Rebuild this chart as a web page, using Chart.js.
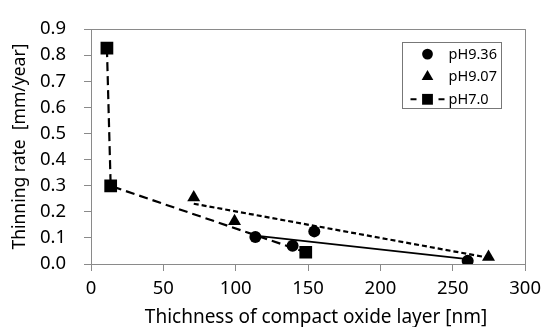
<!DOCTYPE html>
<html>
<head>
<meta charset="utf-8">
<script src="https://cdn.jsdelivr.net/npm/chart.js@4/dist/chart.umd.min.js"></script>
<style>
html,body{margin:0;padding:0;background:#fff;}
#wrap{width:548px;height:327px;position:relative;}
</style>
</head>
<body>
<div id="wrap"><canvas id="c" width="548" height="327" style="width:548px;height:327px;"></canvas></div>
<script>
// ---- data ----
const seriesLabels = ['pH9.36', 'pH9.07', 'pH7.0'];
const xTitle = 'Thichness of compact oxide layer [nm]';
const yTitle = 'Thinning rate  [mm/year]';

const ph936X = [113.6, 139.3, 154.3, 260.3];
const ph936Y = [0.103, 0.070, 0.125, 0.012];

const ph907X = [71.0, 99.2, 274.7];
const ph907Y = [0.255, 0.164, 0.027];

const ph70X = [11.0, 13.6, 148.4];
const ph70Y = [0.827, 0.299, 0.045];

// trend lines (end points)
const fit936X = [113.6, 260.3];
const fit936Y = [0.109, 0.019];
const fit907X = [71.0, 274.7];
const fit907Y = [0.231, 0.024];

const xTicks = [0, 50, 100, 150, 200, 250, 300];
const yTicks = [0.0, 0.1, 0.2, 0.3, 0.4, 0.5, 0.6, 0.7, 0.8, 0.9];

const pts = (xs, ys) => xs.map((x, i) => ({x: x, y: ys[i]}));

const FONT = '"Noto Sans", "Liberation Sans", Arial, sans-serif';

function drawMarker(ctx, style, r, x, y) {
  ctx.beginPath();
  if (style === 'circle') {
    ctx.arc(x, y, r, 0, Math.PI * 2);
  } else if (style === 'triangle') {
    const a = -Math.PI / 2;
    ctx.moveTo(x + Math.cos(a) * r, y + Math.sin(a) * r);
    ctx.lineTo(x + Math.cos(a + 2 * Math.PI / 3) * r, y + Math.sin(a + 2 * Math.PI / 3) * r);
    ctx.lineTo(x + Math.cos(a + 4 * Math.PI / 3) * r, y + Math.sin(a + 4 * Math.PI / 3) * r);
    ctx.closePath();
  } else {
    const s = Math.SQRT1_2 * r;
    ctx.rect(x - s, y - s, 2 * s, 2 * s);
  }
  ctx.fill();
}

const framePlugin = {
  id: 'frame',
  afterDatasetsDraw(chart) {
    const a = chart.chartArea, ctx = chart.ctx;
    ctx.save();
    ctx.strokeStyle = '#8a8a8a';
    ctx.lineWidth = 1;
    ctx.beginPath();
    ctx.moveTo(a.left, Math.round(a.top) + 0.5);
    ctx.lineTo(a.right, Math.round(a.top) + 0.5);
    ctx.moveTo(Math.round(a.right) + 0.5, a.top);
    ctx.lineTo(Math.round(a.right) + 0.5, a.bottom);
    ctx.stroke();
    // x-axis title (slightly right of centre, as in the reference)
    ctx.fillStyle = '#000';
    ctx.font = '19px ' + FONT;
    ctx.textAlign = 'center';
    ctx.textBaseline = 'middle';
    ctx.fillText(xTitle, (a.left + a.right) / 2 + 8, a.bottom + 54);
    ctx.restore();
  }
};

const legendPlugin = {
  id: 'boxLegend',
  afterDraw(chart) {
    const ctx = chart.ctx, a = chart.chartArea;
    const bx = Math.round(a.right - 123.5) + 0.5, by = Math.round(a.top + 13) + 0.5;
    const bw = 99, bh = 66;
    ctx.save();
    ctx.fillStyle = '#fff';
    ctx.fillRect(bx, by, bw, bh);
    ctx.strokeStyle = '#777';
    ctx.lineWidth = 1;
    ctx.strokeRect(bx, by, bw, bh);
    const items = [chart.data.datasets[0], chart.data.datasets[1], chart.data.datasets[2]];
    items.forEach((ds, i) => {
      const y = by + 11.6 + i * 22.6;
      const mx = bx + 25;
      if (ds.showLine) {
        ctx.strokeStyle = '#000';
        ctx.lineWidth = 2;
        ctx.setLineDash([]);
        ctx.beginPath();
        ctx.moveTo(bx + 8, y); ctx.lineTo(bx + 14, y);
        ctx.moveTo(bx + 36, y); ctx.lineTo(bx + 42, y);
        ctx.stroke();
      }
      ctx.fillStyle = '#000';
      drawMarker(ctx, ds.pointStyle, ds.pointRadius * (ds.pointStyle === 'rect' ? 0.85 : 0.9), mx, y);
      ctx.font = '14.5px ' + FONT;
      ctx.textAlign = 'left';
      ctx.textBaseline = 'middle';
      ctx.fillText(ds.label, bx + 46, y + 0.5);
    });
    ctx.restore();
  }
};

const tickFont = {family: FONT, size: 18.5};

new Chart(document.getElementById('c'), {
  type: 'scatter',
  data: {
    datasets: [
      {label: seriesLabels[0], data: pts(ph936X, ph936Y), pointStyle: 'circle', pointRadius: 6,
       backgroundColor: '#000', borderColor: '#000', borderWidth: 0, showLine: false, order: 1},
      {label: seriesLabels[1], data: pts(ph907X, ph907Y), pointStyle: 'triangle', pointRadius: 7.5,
       backgroundColor: '#000', borderColor: '#000', borderWidth: 0, showLine: false, order: 1},
      {label: seriesLabels[2], data: pts(ph70X, ph70Y), pointStyle: 'rect', pointRadius: 9,
       backgroundColor: '#000', borderColor: '#000', pointBorderWidth: 0, borderWidth: 2.2,
       borderDash: [9, 5], showLine: true, order: 1},
      {label: 'fit936', data: pts(fit936X, fit936Y), pointRadius: 0, showLine: true,
       borderColor: '#000', borderWidth: 1.8, order: 2},
      {label: 'fit907', data: pts(fit907X, fit907Y), pointRadius: 0, showLine: true,
       borderColor: '#000', borderWidth: 2.2, borderDash: [5, 3], order: 2}
    ]
  },
  options: {
    responsive: false,
    animation: false,
    devicePixelRatio: 1,
    layout: {padding: {top: 18, right: 19, left: 0, bottom: 0}},
    plugins: {legend: {display: false}, tooltip: {enabled: false}},
    scales: {
      x: {
        type: 'linear', min: xTicks[0], max: xTicks[xTicks.length - 1],
        afterBuildTicks: s => { s.ticks = xTicks.map(v => ({value: v})); },
        ticks: {font: tickFont, color: '#000', padding: 7, maxRotation: 0},
        grid: {drawOnChartArea: false, tickLength: 7, color: '#8a8a8a'},
        border: {color: '#8a8a8a'},
        title: {display: false},
        afterFit: s => { s.height = 63; }
      },
      y: {
        type: 'linear', min: yTicks[0], max: yTicks[yTicks.length - 1],
        afterBuildTicks: s => { s.ticks = yTicks.map(v => ({value: v})); },
        ticks: {font: tickFont, color: '#000', padding: 18, callback: v => Number(v).toFixed(1)},
        grid: {drawOnChartArea: false, tickLength: 7, color: '#8a8a8a'},
        border: {color: '#8a8a8a'},
        title: {display: true, text: yTitle, font: {family: FONT, size: 17.5}, color: '#000', padding: {top: 10, bottom: 0}},
        afterFit: s => { s.width = 91; }
      }
    }
  },
  plugins: [framePlugin, legendPlugin]
});
</script>
</body>
</html>
